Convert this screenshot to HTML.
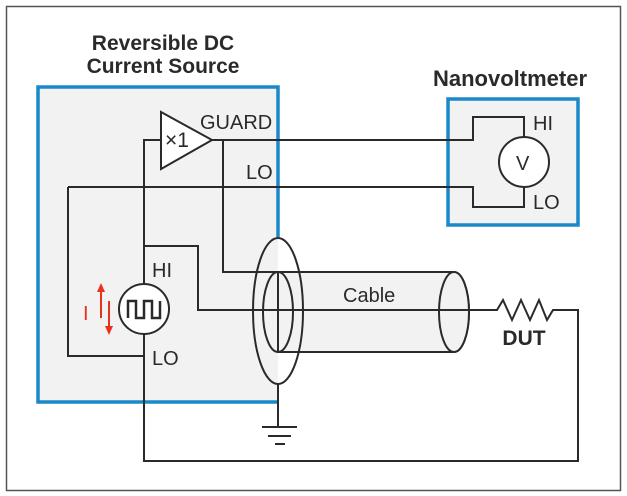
<!DOCTYPE html>
<html><head><style>body{margin:0;background:#fff}svg{display:block}</style></head><body>
<svg width="627" height="496" viewBox="0 0 627 496" xmlns="http://www.w3.org/2000/svg" font-family="Liberation Sans, sans-serif">
<rect x="6.5" y="6.5" width="614" height="484" fill="#fff" stroke="#555" stroke-width="1.5"/>
<rect x="38" y="87" width="240" height="315" fill="#f2f2f2"/>
<rect x="448" y="99" width="130" height="126" fill="#f2f2f2" stroke="#1a88c9" stroke-width="3.5"/>
<g fill="none" stroke="#2a2a2a" stroke-width="2">
<path d="M278 272 H454 A15 40 0 0 1 454 352 H278 Z" fill="#f2f2f2"/>
<ellipse cx="454" cy="312" rx="15" ry="40" fill="#f2f2f2"/>
</g>
<path d="M278 237 V87 H38 V402 H278" fill="none" stroke="#1a88c9" stroke-width="3.5"/>
<g fill="none" stroke="#2a2a2a" stroke-width="2">
<polygon points="161,112 212,140 161,169" fill="#fff"/>
<path d="M212 140 H473 V117 H524 V137"/>
<path d="M161 140 H144 V284"/>
<path d="M223 140 V272 H278"/>
<path d="M68 187 H473 V207 H524 V187"/>
<path d="M68 187 V356 H144"/>
<path d="M144 246 H198 V310 H497 L503 300 L512 320 L521 300 L530 320 L539 300 L547 320 L553 310 H578 V461 H144 V334"/>
<ellipse cx="278" cy="311" rx="25" ry="73"/>
<ellipse cx="278" cy="312" rx="15" ry="40"/>
<path d="M278 384 V427 M262 427 H297 M268 436 H291 M275 444 H285"/>
<circle cx="144" cy="309" r="25" fill="#fff"/>
<circle cx="524" cy="162" r="25" fill="#fff"/>
<path d="M128 318 V301 H136 V318 H144 V301 H152 V318 H160 V301" stroke-width="2.5"/>
</g>
<g stroke="#e8321e" stroke-width="2" fill="#e8321e">
<path d="M101 318 V290"/><polygon points="97,292 101,283 105,292" stroke="none"/>
<path d="M109 301 V328"/><polygon points="105,326 109,335 113,326" stroke="none"/>
</g>
<g fill="#2a2a2a" font-size="20">
<text x="200" y="129">GUARD</text>
<text x="246" y="179">LO</text>
<text x="152" y="277">HI</text>
<text x="152" y="365">LO</text>
<text x="83" y="320" fill="#e8321e">I</text>
<text x="165" y="147" font-size="21">×1</text>
<text x="343" y="302">Cable</text>
<text x="533" y="130">HI</text>
<text x="533" y="209">LO</text>
<text x="516" y="170">V</text>
</g>
<g fill="#2a2a2a" font-weight="bold" font-size="21" text-anchor="middle">
<text x="163" y="50">Reversible DC</text>
<text x="163" y="73">Current Source</text>
<text x="510" y="86" font-size="22">Nanovoltmeter</text>
<text x="524" y="345">DUT</text>
</g>
</svg>
</body></html>
